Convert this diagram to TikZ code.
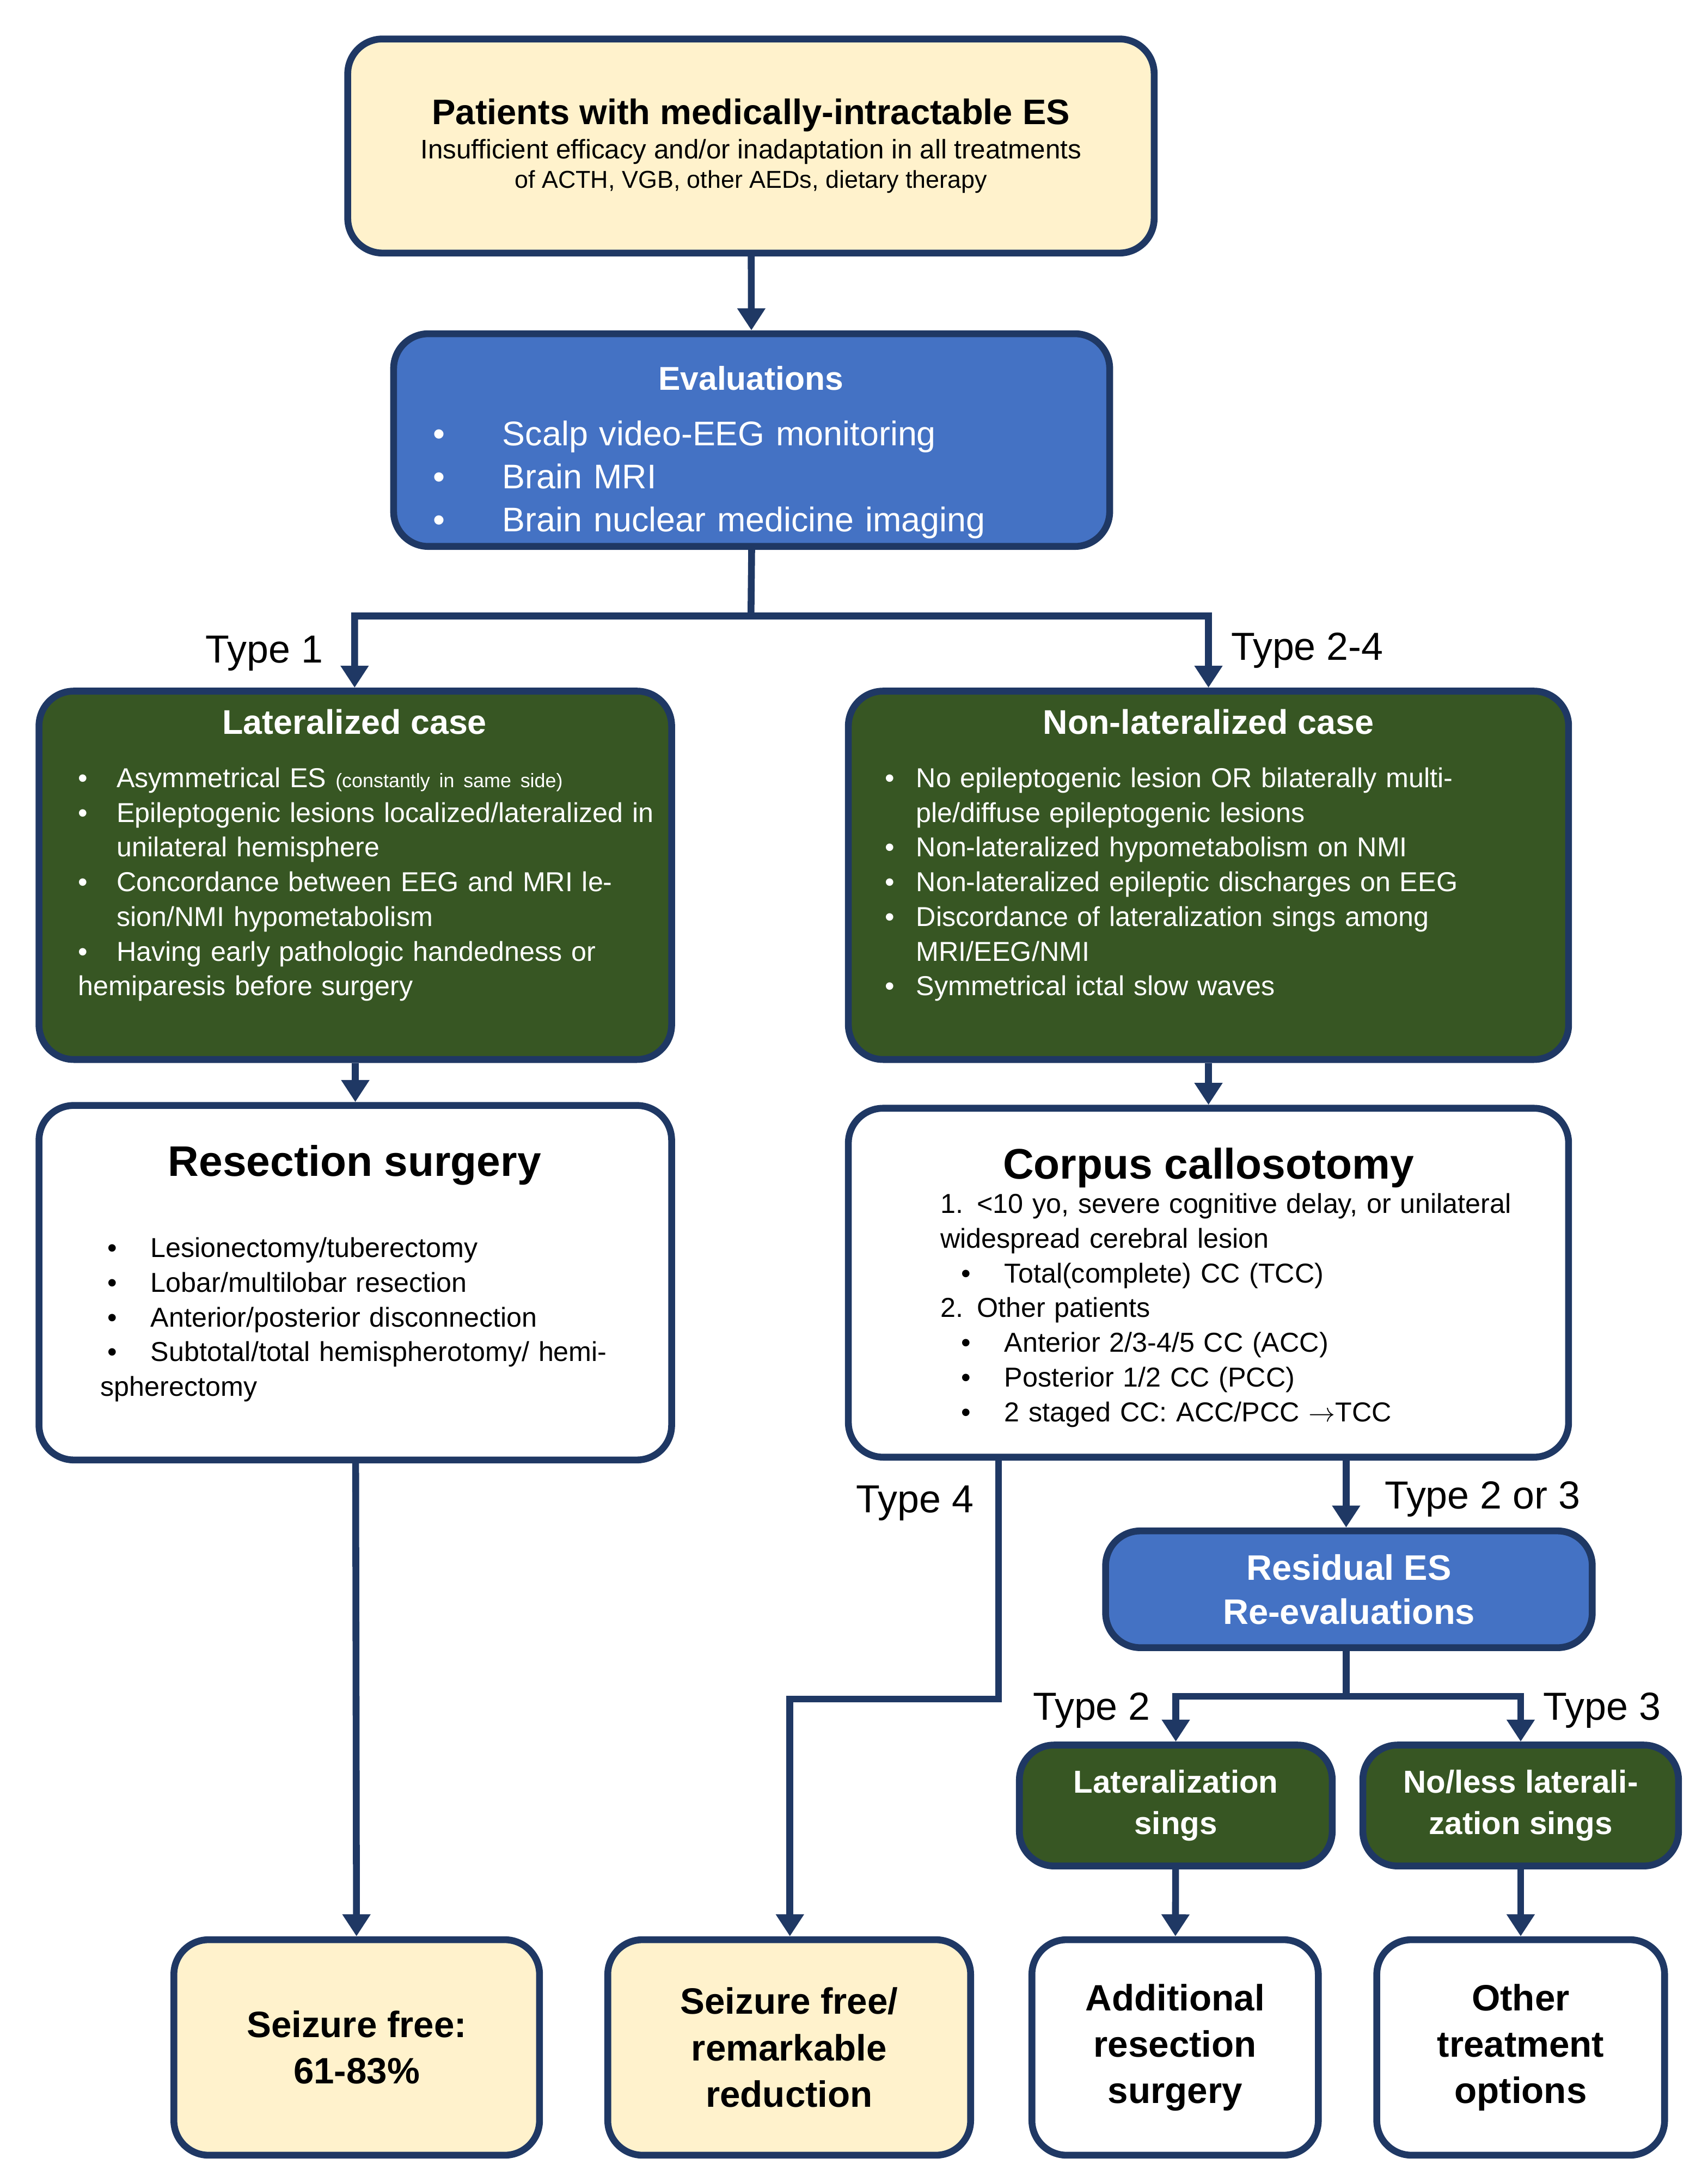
\documentclass[tikz,border=0pt]{standalone}
\usepackage{fontspec}
\setmainfont{Liberation Sans}
\usetikzlibrary{arrows.meta}
\definecolor{navy}{HTML}{1F3864}
\definecolor{cream}{HTML}{FFF2CC}
\definecolor{eblue}{HTML}{4472C4}
\definecolor{dgreen}{HTML}{375623}
\newcommand{\bli}[3]{\par\hangindent=#1\hangafter=1\noindent\makebox[#1][l]{\hspace*{#2}\textbullet}#3}
\begin{document}
\begin{tikzpicture}[x=0.02cm,y=-0.02cm,
  box/.style={draw=navy,line width=2.8pt,rounded corners=0.5cm,align=center,inner sep=0pt},
  yel/.style={box,fill=cream},
  blu/.style={box,fill=eblue,text=white},
  grn/.style={box,fill=dgreen,text=white},
  wht/.style={box,fill=white},
  con/.style={draw=navy,line width=2.8pt,-{Triangle[length=9pt,width=11pt]}},
  lab/.style={font=\fontsize{16}{19}\selectfont,inner sep=0pt},
  txt/.style={align=left,inner sep=0pt,anchor=north west}]
\useasboundingbox (0,0) rectangle (1228,1570);
% boxes
\node[yel,minimum width=11.6cm,minimum height=3.08cm] (top) at (540,105)
 {{\fontsize{14.5}{18}\selectfont\bfseries Patients with medically-intractable ES}\\[2pt]
  \fontsize{11}{14}\selectfont Insufficient efficacy and/or inadaptation in all treatments\\of ACTH, VGB, other AEDs, dietary therapy};
\node[blu,minimum width=10.3cm,minimum height=3.06cm] (eval) at (540.5,316.5) {};
\node[grn,minimum width=9.1cm,minimum height=5.3cm] (lat) at (255.5,629.5) {};
\node[grn,minimum width=10.36cm,minimum height=5.3cm] (nlat) at (869,629.5) {};
\node[wht,minimum width=9.1cm,minimum height=5.1cm] (res) at (255.5,922.5) {};
\node[wht,minimum width=10.36cm,minimum height=5.02cm] (cc) at (869,922.5) {};
\node[blu,minimum width=7cm,minimum height=1.68cm,font=\fontsize{14.5}{18}\selectfont\bfseries] (resid) at (970,1143) {Residual ES\\Re-evaluations};
\node[grn,minimum width=4.5cm,minimum height=1.74cm,font=\fontsize{13}{17}\selectfont\bfseries] (lats) at (845.5,1298.5) {Lateralization\\sings};
\node[grn,minimum width=4.54cm,minimum height=1.74cm,font=\fontsize{13}{17}\selectfont\bfseries] (nls) at (1093.5,1298.5) {No/less laterali-\\zation sings};
\node[yel,minimum width=5.26cm,minimum height=3.1cm,font=\fontsize{15}{19}\selectfont\bfseries] (sf) at (256.5,1472.5) {Seizure free:\\61-83\%};
\node[yel,minimum width=5.22cm,minimum height=3.1cm,font=\fontsize{15}{19}\selectfont\bfseries] (sfr) at (567.5,1472.5) {Seizure free/\\remarkable\\reduction};
\node[wht,minimum width=4.12cm,minimum height=3.1cm,font=\fontsize{15}{19}\selectfont\bfseries] (add) at (845,1472.5) {Additional\\resection\\surgery};
\node[wht,minimum width=4.14cm,minimum height=3.1cm,font=\fontsize{15}{19}\selectfont\bfseries] (oth) at (1093.5,1472.5) {Other\\treatment\\options};
% box texts
\node[text=white,font=\fontsize{13.5}{16}\selectfont\bfseries] (evalt) at (540,272) {Evaluations};
\node[txt,text=white,text width=9.5cm,font=\fontsize{14}{17.6}\selectfont] (evalb) at (306,289)
 {\bli{1.1cm}{0.1cm}{Scalp video-EEG monitoring}\bli{1.1cm}{0.1cm}{Brain MRI}\bli{1.1cm}{0.1cm}{Brain nuclear medicine imaging}};
\node[text=white,font=\fontsize{14}{17}\selectfont\bfseries] (latt) at (255,519) {Lateralized case};
\node[txt,text=white,text width=8.4cm,font=\fontsize{11.2}{14.2}\selectfont] (latb) at (56,541)
 {\bli{0.55cm}{0cm}{Asymmetrical ES {\fontsize{8}{10}\selectfont(constantly in same side)}}%
  \bli{0.55cm}{0cm}{Epileptogenic lesions localized/lateralized in unilateral hemisphere}%
  \bli{0.55cm}{0cm}{Concordance between EEG and MRI lesion/NMI hypometabolism}%
  \bli{0.55cm}{0cm}{Having early pathologic handedness or hemiparesis before surgery}};
\node[text=white,font=\fontsize{14}{17}\selectfont\bfseries] (nlatt) at (869,519) {Non-lateralized case};
\node[txt,text=white,text width=9.8cm,font=\fontsize{11.2}{14.2}\selectfont] (nlatb) at (636,541)
 {\bli{0.45cm}{0cm}{No epileptogenic lesion OR bilaterally multiple/diffuse epileptogenic lesions}%
  \bli{0.45cm}{0cm}{Non-lateralized hypometabolism on NMI}%
  \bli{0.45cm}{0cm}{Non-lateralized epileptic discharges on EEG}%
  \bli{0.45cm}{0cm}{Discordance of lateralization sings among MRI/EEG/NMI}%
  \bli{0.45cm}{0cm}{Symmetrical ictal slow waves}};
\node[font=\fontsize{17.5}{20}\selectfont\bfseries] (rest) at (255,838) {Resection surgery};
\node[txt,text width=8cm,font=\fontsize{11.2}{14.2}\selectfont] (resb) at (72,879)
 {\bli{0.72cm}{0.1cm}{Lesionectomy/tuberectomy}\bli{0.72cm}{0.1cm}{Lobar/multilobar resection}%
  \bli{0.72cm}{0.1cm}{Anterior/posterior disconnection}\bli{0.72cm}{0.1cm}{Subtotal/total hemispherotomy/ hemispherectomy}};
\node[font=\fontsize{17.5}{20}\selectfont\bfseries] (cct) at (869,840) {Corpus callosotomy};
\node[txt,text width=8.8cm,font=\fontsize{11.2}{14.2}\selectfont] (ccb) at (676,858)
 {\noindent 1. <10 yo, severe cognitive delay, or unilateral widespread cerebral lesion
  \bli{0.92cm}{0.3cm}{Total(complete) CC (TCC)}\par\noindent 2. Other patients
  \bli{0.92cm}{0.3cm}{Anterior 2/3-4/5 CC (ACC)}\bli{0.92cm}{0.3cm}{Posterior 1/2 CC (PCC)}%
  \bli{0.92cm}{0.3cm}{2 staged CC: ACC/PCC $\rightarrow$TCC}};
% junction coordinates
\coordinate (j1) at (540,443);
\coordinate (j2) at (968,1220);
% connectors
\draw[con] (top) -- (eval);
\draw[con] (eval.south) -- (j1) -| (lat.north -| 255,0);
\draw[con] (j1) -| (nlat.north);
\draw[con] (lat) -- (res);
\draw[con] (nlat) -- (cc);
\draw[con] (res) -- (sf);
\draw[con] (cc.south -| 718,0) |- (568,1222) -- (sfr.north -| 568,0);
\draw[con] (cc.south -| 968,0) -- (resid.north -| 968,0);
\draw[con] (resid.south -| 968,0) -- (j2) -| (lats.north);
\draw[con] (j2) -| (nls.north);
\draw[con] (lats) -- (add);
\draw[con] (nls) -- (oth);
% labels
\node[lab] (l1) at (190,470) {Type 1};
\node[lab] (l2) at (940,468) {Type 2-4};
\node[lab] (l3) at (658,1081) {Type 4};
\node[lab] (l4) at (1066,1078) {Type 2 or 3};
\node[lab] (l5) at (785,1230) {Type 2};
\node[lab] (l6) at (1152,1230) {Type 3};
\end{tikzpicture}
\end{document}
